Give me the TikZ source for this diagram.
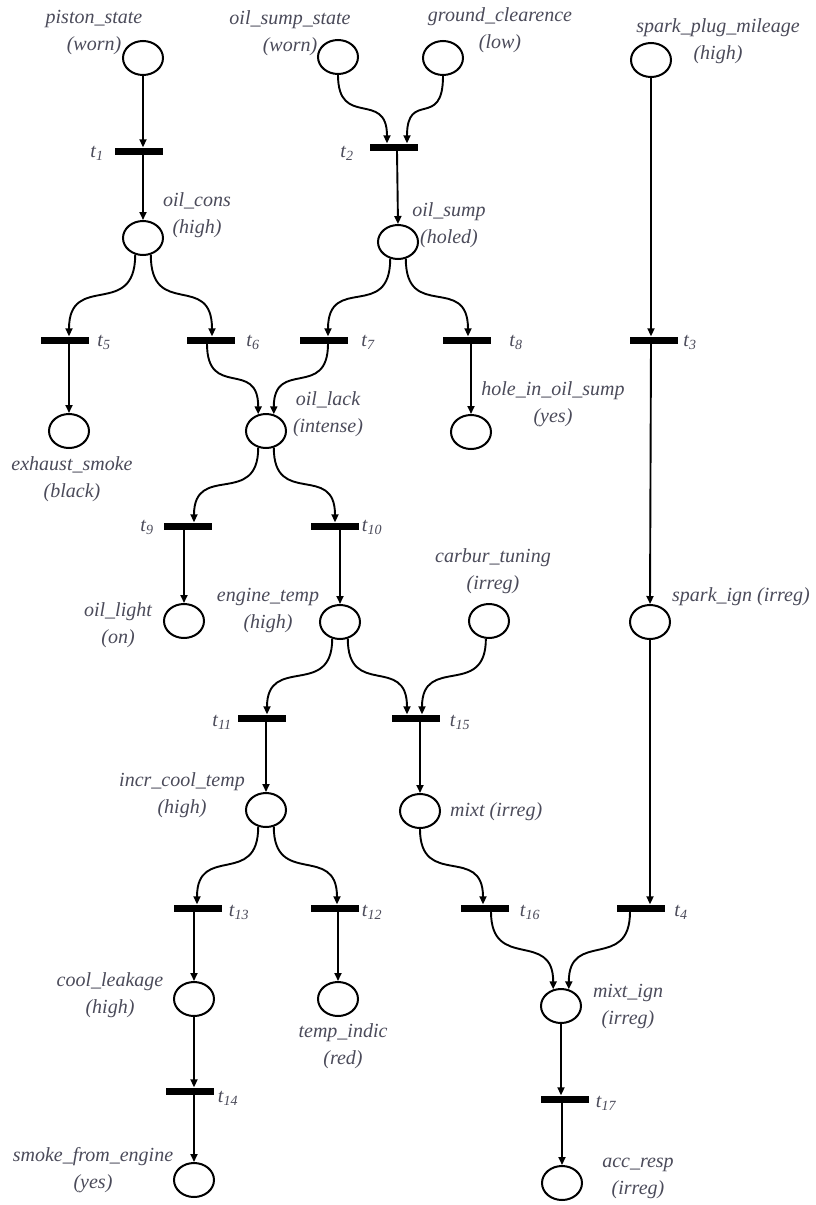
\documentclass[tikz,border=0pt]{standalone}
\usepackage{fontspec}
\setmainfont{Liberation Serif}
\usetikzlibrary{arrows.meta,shapes.geometric}
\definecolor{labelgray}{RGB}{75,75,90}
\begin{document}
\begin{tikzpicture}[x=1pt,y=-1pt,
  place/.style={draw, line width=2pt, ellipse, minimum width=40pt, minimum height=34pt, inner sep=0pt},
  trans/.style={fill=black, minimum width=48pt, minimum height=7pt, inner sep=0pt},
  arc/.style={line width=1.9pt, -{Triangle[length=8pt,width=7pt]}},
  lbl/.style={text=labelgray, font=\fontsize{20}{27}\selectfont\itshape, align=center, inner sep=0pt},
  tl/.style={text=labelgray, font=\fontsize{20}{24}\selectfont\itshape, inner sep=0pt},
]
\useasboundingbox (0,0) rectangle (816,1205);
\fill[white] (0,0) rectangle (816,1205);

% places
\node[place] (ps)  at (143,58)   {};
\node[place] (oss) at (338,57)   {};
\node[place] (gc)  at (443,58)   {};
\node[place] (spm) at (651,60)   {};
\node[place] (oc)  at (143,238)  {};
\node[place] (os)  at (398,242)  {};
\node[place] (es)  at (69,431)   {};
\node[place] (ol)  at (266,431)  {};
\node[place] (hos) at (471,432)  {};
\node[place] (olt) at (184,621)  {};
\node[place] (et)  at (340,622)  {};
\node[place] (ct)  at (489,621)  {};
\node[place] (si)  at (650,622)  {};
\node[place] (ict) at (266,810)  {};
\node[place] (mx)  at (420,811)  {};
\node[place] (cl)  at (194,999)  {};
\node[place] (ti)  at (338,999)  {};
\node[place] (mi)  at (561,1006) {};
\node[place] (sfe) at (194,1180) {};
\node[place] (ar)  at (562,1183) {};

% transitions
\node[trans] (t1)  at (139,151)  {};
\node[trans] (t2)  at (394,147)  {};
\node[trans] (t3)  at (654,340)  {};
\node[trans] (t5)  at (65,340)   {};
\node[trans] (t6)  at (211,340)  {};
\node[trans] (t7)  at (324,340)  {};
\node[trans] (t8)  at (467,340)  {};
\node[trans] (t9)  at (188,526)  {};
\node[trans] (t10) at (335,526)  {};
\node[trans] (t11) at (262,718)  {};
\node[trans] (t15) at (416,718)  {};
\node[trans] (t13) at (198,908)  {};
\node[trans] (t12) at (335,908)  {};
\node[trans] (t16) at (485,908)  {};
\node[trans] (t4)  at (641,908)  {};
\node[trans] (t14) at (190,1091) {};
\node[trans] (t17) at (565,1099) {};

% place labels
\node[lbl] (lps)  at (94,33)    {piston\_state\\(worn)};
\node[lbl] (loss) at (290,33)   {oil\_sump\_state\\(worn)};
\node[lbl] (lgc)  at (500,30)   {ground\_clearence\\(low)};
\node[lbl] (lspm) at (718,41)   {spark\_plug\_mileage\\(high)};
\node[lbl] (loc)  at (197,215)  {oil\_cons\\(high)};
\node[lbl] (los)  at (449,225)  {oil\_sump\\(holed)};
\node[lbl] (les)  at (72,479)   {exhaust\_smoke\\(black)};
\node[lbl] (lol)  at (328,414)  {oil\_lack\\(intense)};
\node[lbl] (lhos) at (553,404)  {hole\_in\_oil\_sump\\(yes)};
\node[lbl] (lct)  at (493,571)  {carbur\_tuning\\(irreg)};
\node[lbl] (lolt) at (118,625)  {oil\_light\\(on)};
\node[lbl] (let)  at (268,610)  {engine\_temp\\(high)};
\node[lbl, anchor=west] (lsi) at (672,597) {spark\_ign (irreg)};
\node[lbl] (lict) at (182,795)  {incr\_cool\_temp\\(high)};
\node[lbl, anchor=west] (lmx) at (450,812) {mixt (irreg)};
\node[lbl] (lcl)  at (110,995)  {cool\_leakage\\(high)};
\node[lbl] (lti)  at (343,1046) {temp\_indic\\(red)};
\node[lbl] (lmi)  at (628,1006) {mixt\_ign\\(irreg)};
\node[lbl] (lsfe) at (93,1170)  {smoke\_from\_engine\\(yes)};
\node[lbl] (lar)  at (638,1178) {acc\_resp\\(irreg)};

% transition labels
\node[tl] at (97,153)   {t\textsubscript{1}};
\node[tl] at (347,153)  {t\textsubscript{2}};
\node[tl] at (690,342)  {t\textsubscript{3}};
\node[tl] at (104,342)  {t\textsubscript{5}};
\node[tl] at (253,342)  {t\textsubscript{6}};
\node[tl] at (368,342)  {t\textsubscript{7}};
\node[tl] at (516,342)  {t\textsubscript{8}};
\node[tl] at (147,527)  {t\textsubscript{9}};
\node[tl] at (372,527)  {t\textsubscript{10}};
\node[tl] at (222,722)  {t\textsubscript{11}};
\node[tl] at (460,722)  {t\textsubscript{15}};
\node[tl] at (239,912)  {t\textsubscript{13}};
\node[tl] at (372,912)  {t\textsubscript{12}};
\node[tl] at (530,912)  {t\textsubscript{16}};
\node[tl] at (681,912)  {t\textsubscript{4}};
\node[tl] at (228,1098) {t\textsubscript{14}};
\node[tl] at (606,1103) {t\textsubscript{17}};

% arcs
\draw[arc] (ps.south) -- ([xshift=4pt]t1.north);
\draw[arc] ([xshift=4pt]t1.south) -- (oc.north);
\draw[arc] (oss.south) .. controls +(0,54) and +(0,-54) .. ([xshift=-7pt]t2.north);
\draw[arc] (gc.south) .. controls +(0,54) and +(0,-54) .. ([xshift=13pt]t2.north);
\draw[arc] ([xshift=3pt]t2.south) -- (os.north);
\draw[arc] (spm.south) -- ([xshift=-3pt]t3.north);

\draw[arc] (oc.245) .. controls +(0,65) and +(0,-65) .. ([xshift=4pt]t5.north);
\draw[arc] (oc.295) .. controls +(0,65) and +(0,-65) .. ([xshift=1pt]t6.north);
\draw[arc] (os.245) .. controls +(0,63) and +(0,-63) .. ([xshift=4pt]t7.north);
\draw[arc] (os.295) .. controls +(0,63) and +(0,-63) .. ([xshift=1pt]t8.north);

\draw[arc] ([xshift=-3pt]t3.south) -- (si.north);
\draw[arc] ([xshift=4pt]t5.south) -- (es.north);
\draw[arc] ([xshift=-4pt]t6.south) .. controls +(0,56) and +(0,-56) .. (ol.115);
\draw[arc] ([xshift=4pt]t7.south) .. controls +(0,56) and +(0,-56) .. (ol.65);
\draw[arc] ([xshift=4pt]t8.south) -- (hos.north);

\draw[arc] (ol.245) .. controls +(0,60) and +(0,-60) .. ([xshift=6pt]t9.north);
\draw[arc] (ol.295) .. controls +(0,60) and +(0,-60) .. (t10.north);
\draw[arc] ([xshift=-4pt]t9.south) -- (olt.north);
\draw[arc] ([xshift=5pt]t10.south) -- (et.north);

\draw[arc] (et.245) .. controls +(0,60) and +(0,-60) .. ([xshift=5pt]t11.north);
\draw[arc] (et.295) .. controls +(0,60) and +(0,-60) .. ([xshift=-9pt]t15.north);
\draw[arc] (ct.260) .. controls +(0,60) and +(0,-60) .. ([xshift=6pt]t15.north);
\draw[arc] (si.south) -- ([xshift=9pt]t4.north);

\draw[arc] ([xshift=4pt]t11.south) -- (ict.north);
\draw[arc] ([xshift=4pt]t15.south) -- (mx.north);

\draw[arc] (ict.245) .. controls +(0,61) and +(0,-61) .. ([xshift=-1pt]t13.north);
\draw[arc] (ict.295) .. controls +(0,61) and +(0,-61) .. ([xshift=2pt]t12.north);
\draw[arc] (mx.south) .. controls +(0,60) and +(0,-60) .. ([xshift=-2pt]t16.north);

\draw[arc] ([xshift=-4pt]t13.south) -- (cl.north);
\draw[arc] ([xshift=3pt]t12.south) -- (ti.north);
\draw[arc] ([xshift=6pt]t16.south) .. controls +(0,60) and +(0,-60) .. (mi.115);
\draw[arc] ([xshift=-11pt]t4.south) .. controls +(0,60) and +(0,-60) .. (mi.65);

\draw[arc] (cl.south) -- ([xshift=4pt]t14.north);
\draw[arc] ([xshift=4pt]t14.south) -- (sfe.north);
\draw[arc] (mi.south) -- ([xshift=-4pt]t17.north);
\draw[arc] ([xshift=-3pt]t17.south) -- (ar.north);
\end{tikzpicture}
\end{document}
